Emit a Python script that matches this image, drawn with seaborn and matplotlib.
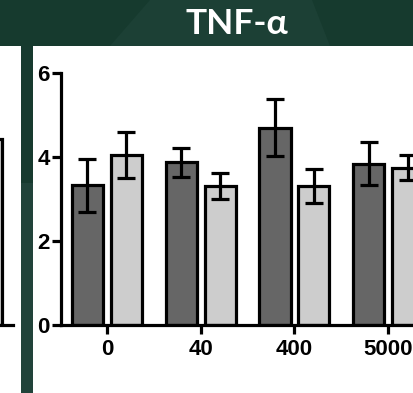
import matplotlib
matplotlib.use("Agg")
import matplotlib.pyplot as plt
from matplotlib.patches import Rectangle, Polygon
import numpy as np
import pandas as pd
import seaborn as sns

# ---- data -------------------------------------------------------------
doses = ["0", "40", "400", "5000"]
groups = ["Control", "Treated"]
control_mean = [3.33, 3.87, 4.70, 3.84]
control_sem = [0.63, 0.35, 0.67, 0.51]
treated_mean = [4.05, 3.31, 3.31, 3.75]
treated_sem = [0.55, 0.30, 0.40, 0.29]
y_ticks = [0, 2, 4, 6]
title = "TNF-\u03b1"

# last bar of the neighbouring panel (only its right edge shows)
prev_panel_value = [4.43]

# ---- style ------------------------------------------------------------
sns.set_theme(style="white")
plt.rcParams["font.family"] = ["Liberation Sans", "DejaVu Sans"]

W, H = 413, 393
fig = plt.figure(figsize=(W / 100, H / 100), dpi=100)
fig.patch.set_facecolor("white")


def fx(px):
    return px / W


def fy(py):
    return 1 - py / H


dark_bar = "#666666"
light_bar = "#cdcdcd"
green_dark = "#163a2e"
green_light = "#1c4035"

# ---- slide header and side stripe ------------------------------------
fig.patches.append(Rectangle((0, fy(46)), 1, 46 / H, transform=fig.transFigure,
                             facecolor=green_dark, edgecolor="none", zorder=0))
fig.patches.append(Polygon([(fx(150), fy(0)), (fx(312), fy(0)), (fx(330), fy(46)),
                            (fx(110), fy(46))], closed=True, transform=fig.transFigure,
                           facecolor=green_light, edgecolor="none", zorder=0))
fig.patches.append(Rectangle((fx(21), fy(183)), 12 / W, (183 - 46) / H,
                             transform=fig.transFigure, facecolor="#173a2f",
                             edgecolor="none", zorder=0))
fig.patches.append(Rectangle((fx(21), 0), 12 / W, fy(183),
                             transform=fig.transFigure, facecolor="#21433a",
                             edgecolor="none", zorder=0))
fig.text(fx(236.5), fy(34), title, color="white", fontsize=25.5, fontweight="bold",
         family=["Lato", "DejaVu Sans"], ha="center", va="baseline")

# ---- axes geometry ----------------------------------------------------
ax_bottom = fy(325)
ax_height = (325 - 73) / H
lw = 2.3

# neighbouring panel fragment
ax_prev = fig.add_axes([fx(-120), ax_bottom, 133 / W, ax_height])
ax_prev.patch.set_alpha(0)
ax_prev.bar([0.135], prev_panel_value, width=0.33, color=light_bar,
            edgecolor="black", linewidth=lw)
ax_prev.set_xlim(-1.0, 0.42)
ax_prev.set_ylim(0, 6)
for side in ["left", "right", "top"]:
    ax_prev.spines[side].set_visible(False)
ax_prev.spines["bottom"].set_linewidth(lw)
ax_prev.spines["bottom"].set_color("black")
ax_prev.set_xticks([])
ax_prev.set_yticks([])

# main panel
ax = fig.add_axes([fx(61), ax_bottom, (482 - 61) / W, ax_height])
ax.patch.set_alpha(0)

df = pd.DataFrame({
    "dose": doses * 2,
    "group": [groups[0]] * len(doses) + [groups[1]] * len(doses),
    "value": control_mean + treated_mean,
})
sns.barplot(data=df, x="dose", y="value", hue="group", order=doses,
            hue_order=groups, palette=[dark_bar, light_bar], saturation=1,
            width=0.83, gap=0.2, edgecolor="black", linewidth=lw,
            errorbar=None, legend=False, ax=ax)

# error bars at the centres of the drawn bars
bars = sorted(ax.patches, key=lambda p: p.get_x())
errs = []
for c, t in zip(control_sem, treated_sem):
    errs += [c, t]
xs = [p.get_x() + p.get_width() / 2 for p in bars]
ys = [p.get_height() for p in bars]
ax.errorbar(xs, ys, yerr=errs, fmt="none", ecolor="black", elinewidth=lw,
            capsize=6.5, capthick=lw, zorder=5)

ax.set_xlim(-0.49, 4.0)
ax.set_ylim(0, 6)
ax.set_yticks(y_ticks)
ax.set_yticklabels([str(t) for t in y_ticks])
ax.set_xlabel("")
ax.set_ylabel("")
for side in ["right", "top"]:
    ax.spines[side].set_visible(False)
for side in ["left", "bottom"]:
    ax.spines[side].set_linewidth(lw)
    ax.spines[side].set_color("black")
ax.tick_params(axis="both", which="major", direction="out", length=6.5,
               width=lw, color="black", labelsize=16, labelcolor="black",
               bottom=True, left=True)
ax.tick_params(axis="y", pad=1.5)
ax.tick_params(axis="x", pad=3.5)
for lab in ax.get_xticklabels() + ax.get_yticklabels():
    lab.set_fontweight("bold")
    lab.set_family(["Liberation Sans", "DejaVu Sans"])

fig.savefig("out.png", dpi=100)
